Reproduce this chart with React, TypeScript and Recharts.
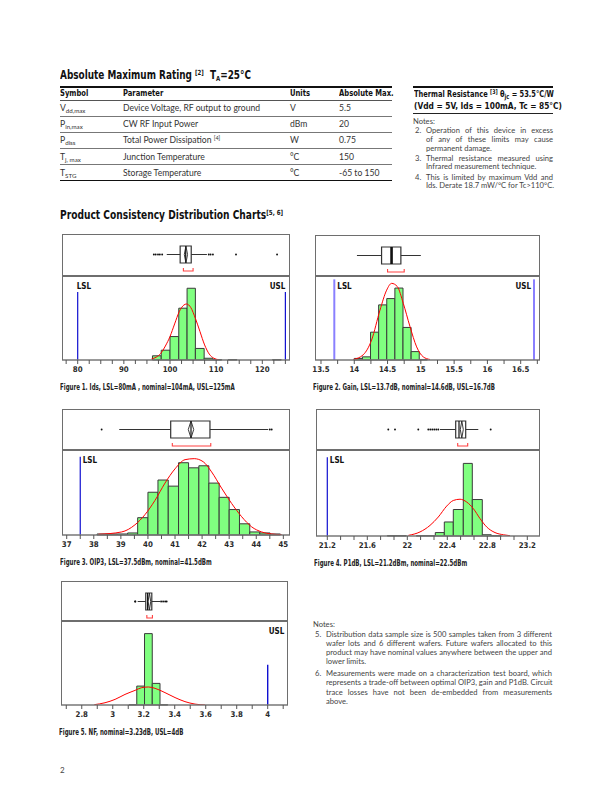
import React from "react";
import {
  ComposedChart, XAxis, YAxis, Line, Scatter, ReferenceArea, ReferenceLine,
} from "recharts";

const NARROW = '"DejaVu Sans Condensed", "Liberation Sans", sans-serif';
const BODY = 'Lato, "Open Sans", sans-serif';

// ---------- Figure 1: Ids (mA) ----------
const idsBins = [
  { x0: 96.2, x1: 98.1, n: 12 },
  { x0: 98.1, x1: 100.0, n: 28 },
  { x0: 100.0, x1: 101.9, n: 67 },
  { x0: 101.9, x1: 103.7, n: 148 },
  { x0: 103.7, x1: 105.5, n: 205 },
  { x0: 105.5, x1: 107.4, n: 33 },
  { x0: 107.4, x1: 109.3, n: 5 },
  { x0: 109.3, x1: 111.2, n: 1 },
  { x0: 112.6, x1: 114.5, n: 1 },
  { x0: 122.2, x1: 124.1, n: 1 },
];
const idsFit = [
  { x: 96, y: 3 }, { x: 97, y: 8 }, { x: 98, y: 19 }, { x: 99, y: 40 },
  { x: 100, y: 67 }, { x: 101, y: 103 }, { x: 102, y: 138 }, { x: 103, y: 157 },
  { x: 103.6, y: 160 }, { x: 104.5, y: 150 }, { x: 105.5, y: 119 }, { x: 106.5, y: 81 },
  { x: 107.5, y: 43 }, { x: 108.5, y: 17 }, { x: 109.5, y: 5 }, { x: 110.5, y: 1 },
];
const idsBox = { lo: 99.3, q1: 102.2, med: 103.4, q3: 104.6, hi: 108.0, meanLo: 103.1, meanHi: 103.8, shortLo: 102.9, shortHi: 105.0 };
const idsOutliers = [96.5, 96.9, 97.4, 97.8, 98.3, 108.4, 108.8, 109.3, 114.3, 123.2];
const idsSpecs = [{ name: "LSL", x: 80 }, { name: "USL", x: 125 }];
const idsTicks = [77.5, 80, 82.5, 85, 87.5, 90, 92.5, 95, 97.5, 100, 102.5, 105, 107.5, 110, 112.5, 115, 117.5, 120, 122.5, 125];
const idsTickLabels = [80, 90, 100, 110, 120];

// ---------- Figure 2: Gain (dB) ----------
const gainBins = [
  { x0: 14.0, x1: 14.122, n: 3 },
  { x0: 14.122, x1: 14.244, n: 6 },
  { x0: 14.244, x1: 14.366, n: 53 },
  { x0: 14.366, x1: 14.488, n: 105 },
  { x0: 14.488, x1: 14.61, n: 117 },
  { x0: 14.61, x1: 14.732, n: 137 },
  { x0: 14.732, x1: 14.854, n: 62 },
  { x0: 14.854, x1: 14.976, n: 16 },
  { x0: 14.976, x1: 15.098, n: 1 },
];
const gainFit = [
  { x: 13.985, y: 1 }, { x: 14.135, y: 10 }, { x: 14.26, y: 38 }, { x: 14.386, y: 95 },
  { x: 14.486, y: 133 }, { x: 14.561, y: 146 }, { x: 14.646, y: 140 }, { x: 14.736, y: 108 },
  { x: 14.836, y: 64 }, { x: 14.937, y: 25 }, { x: 15.036, y: 6 }, { x: 15.137, y: 1 },
];
const gainBox = { lo: 14.04, q1: 14.41, med: 14.56, q3: 14.7, hi: 15.0, meanLo: 14.55, meanHi: 14.58, shortLo: 14.5, shortHi: 14.75 };
const gainOutliers: number[] = [];
const gainSpecs = [{ name: "LSL", x: 13.7 }, { name: "USL", x: 16.7 }];
const gainTicks = [13.5, 13.75, 14, 14.25, 14.5, 14.75, 15, 15.25, 15.5, 15.75, 16, 16.25, 16.5, 16.75];
const gainTickLabels = [13.5, 14, 14.5, 15, 15.5, 16, 16.5];

// ---------- Figure 3: OIP3 (dBm) ----------
const oip3Bins = [
  { x0: 38.12, x1: 38.5, n: 1 }, { x0: 38.5, x1: 38.87, n: 1 }, { x0: 38.87, x1: 39.25, n: 1 },
  { x0: 39.25, x1: 39.62, n: 2 }, { x0: 39.62, x1: 40.0, n: 17 }, { x0: 40.0, x1: 40.37, n: 42 },
  { x0: 40.37, x1: 40.75, n: 54 }, { x0: 40.75, x1: 41.13, n: 48 }, { x0: 41.13, x1: 41.5, n: 71 },
  { x0: 41.5, x1: 41.88, n: 66 }, { x0: 41.88, x1: 42.25, n: 68 }, { x0: 42.25, x1: 42.63, n: 51 },
  { x0: 42.63, x1: 43.0, n: 37 }, { x0: 43.0, x1: 43.38, n: 25 }, { x0: 43.38, x1: 43.76, n: 11 },
  { x0: 43.76, x1: 44.13, n: 3 }, { x0: 44.13, x1: 44.51, n: 2 }, { x0: 44.51, x1: 44.89, n: 1 },
];
const oip3Fit = [
  { x: 38.17, y: 0.7 }, { x: 39.03, y: 3 }, { x: 39.52, y: 10 }, { x: 39.89, y: 20 },
  { x: 40.26, y: 34 }, { x: 40.63, y: 51 }, { x: 41.0, y: 65 }, { x: 41.37, y: 74 },
  { x: 41.71, y: 75 }, { x: 42.04, y: 72 }, { x: 42.35, y: 62 }, { x: 42.72, y: 46 },
  { x: 43.09, y: 31 }, { x: 43.46, y: 18 }, { x: 43.83, y: 8 }, { x: 44.2, y: 3 },
  { x: 44.57, y: 1 }, { x: 44.94, y: 0.3 },
];
const oip3Box = { lo: 38.94, q1: 40.84, med: 41.59, q3: 42.29, hi: 44.44, meanLo: 41.49, meanHi: 41.69, shortLo: 40.9, shortHi: 42.32 };
const oip3Outliers = [38.29, 44.5, 44.57];
const oip3Specs = [{ name: "LSL", x: 37.5 }];
const oip3Ticks = [37, 37.5, 38, 38.5, 39, 39.5, 40, 40.5, 41, 41.5, 42, 42.5, 43, 43.5, 44, 44.5, 45];
const oip3TickLabels = [37, 38, 39, 40, 41, 42, 43, 44, 45];

// ---------- Figure 4: P1dB (dBm) ----------
const p1dbBins = [
  { x0: 21.8, x1: 21.9, n: 1 }, { x0: 21.9, x1: 21.99, n: 1 }, { x0: 22.09, x1: 22.18, n: 1 },
  { x0: 22.18, x1: 22.28, n: 1 }, { x0: 22.28, x1: 22.37, n: 11 }, { x0: 22.37, x1: 22.46, n: 45 },
  { x0: 22.46, x1: 22.56, n: 85 }, { x0: 22.56, x1: 22.65, n: 233 }, { x0: 22.65, x1: 22.75, n: 117 },
  { x0: 22.75, x1: 22.84, n: 4 }, { x0: 22.84, x1: 22.94, n: 1 },
];
const p1dbFit = [
  { x: 22.01, y: 2 }, { x: 22.127, y: 13 }, { x: 22.227, y: 34 }, { x: 22.31, y: 61 },
  { x: 22.394, y: 96 }, { x: 22.46, y: 114 }, { x: 22.527, y: 118 }, { x: 22.594, y: 109 },
  { x: 22.66, y: 88 }, { x: 22.727, y: 56 }, { x: 22.794, y: 29 }, { x: 22.877, y: 11 },
  { x: 22.96, y: 4 }, { x: 23.027, y: 1 },
];
const p1dbBox = { lo: 22.327, q1: 22.484, med: 22.517, q3: 22.584, hi: 22.71, meanLo: 22.53, meanHi: 22.56, shortLo: 22.504, shortHi: 22.604 };
const p1dbOutliers = [21.81, 21.877, 22.11, 22.21, 22.23, 22.25, 22.27, 22.29, 22.31, 22.834];
const p1dbSpecs = [{ name: "LSL", x: 21.2 }];
const p1dbTicks = [21.2, 21.333, 21.467, 21.6, 21.733, 21.867, 22, 22.133, 22.267, 22.4, 22.533, 22.667, 22.8, 22.933, 23.067, 23.2];
const p1dbTickLabels = [21.2, 21.6, 22, 22.4, 22.8, 23.2];

// ---------- Figure 5: NF (dB) ----------
const nfBins = [
  { x0: 3.105, x1: 3.155, n: 1 }, { x0: 3.155, x1: 3.205, n: 84 }, { x0: 3.205, x1: 3.255, n: 317 },
  { x0: 3.255, x1: 3.305, n: 96 }, { x0: 3.305, x1: 3.355, n: 1 },
];
const nfFit = [
  { x: 2.881, y: 1.5 }, { x: 2.95, y: 10 }, { x: 3.015, y: 25 }, { x: 3.079, y: 47 },
  { x: 3.144, y: 65 }, { x: 3.187, y: 77 }, { x: 3.23, y: 80 }, { x: 3.273, y: 74 },
  { x: 3.337, y: 55 }, { x: 3.402, y: 33 }, { x: 3.466, y: 15 }, { x: 3.531, y: 4 }, { x: 3.596, y: 0 },
];
const nfBox = { lo: 3.161, q1: 3.213, med: 3.225, q3: 3.252, hi: 3.305, meanLo: 3.228, meanHi: 3.245, shortLo: 3.22, shortHi: 3.256 };
const nfOutliers = [3.144, 3.146, 3.312, 3.325, 3.338, 3.348];
const nfSpecs = [{ name: "USL", x: 4 }];
const nfTicks = [2.7, 2.8, 2.9, 3, 3.1, 3.2, 3.3, 3.4, 3.5, 3.6, 3.7, 3.8, 3.9, 4, 4.1];
const nfTickLabels = [2.8, 3, 3.2, 3.4, 3.6, 3.8, 4];

// table text
const ratingRows = [
  { sym: "V", sub: "dd,max", param: "Device Voltage, RF output to ground", sup: "", units: "V", max: "5.5" },
  { sym: "P", sub: "in,max", param: "CW RF Input Power", sup: "", units: "dBm", max: "20" },
  { sym: "P", sub: "diss", param: "Total Power Dissipation", sup: "[4]", units: "W", max: "0.75" },
  { sym: "T", sub: "j, max", param: "Junction Temperature", sup: "", units: "°C", max: "150" },
  { sym: "T", sub: "STG", param: "Storage Temperature", sup: "", units: "°C", max: "-65 to 150" },
];

// box-plot panel geometry (px from panel top)
const BOX_TOP = 12, BOX_BOT = 29, BOX_MID = 20.5, BR_TOP = 34, BR_BOT = 37;
const AX_H = 22;
const FRAME = "1.5px solid #6e6e6e";

type Bin = { x0: number; x1: number; n: number };
type Pt = { x: number; y: number };
type Box = { lo: number; q1: number; med: number; q3: number; hi: number; meanLo: number; meanHi: number; shortLo: number; shortHi: number };
type SpecStyle = { reach: number; anchor: "start" | "end"; dx: number; dy: number };

interface FigProps {
  frame: { left: number; right: number; top: number; divider: number; axis: number };
  domain: [number, number];
  yMax: number;
  bins: Bin[];
  fit: Pt[];
  box: Box;
  outliers: number[];
  specs: { name: string; x: number }[];
  specStyles: SpecStyle[];
  specColor: string;
  specWidth: number;
  ticks: number[];
  tickLabels: number[];
  caption: string;
  thickMedian?: boolean;
  noDiamond?: boolean;
}

// condensed bold text (horizontal squeeze of the installed condensed face)
function Cond({ children, size, scale = 0.88, lh, style }: { children: React.ReactNode; size: number; scale?: number; lh?: number; style?: React.CSSProperties }) {
  return (
    <div style={{
      display: "block", width: "max-content", whiteSpace: "nowrap", transform: `scaleX(${scale})`, transformOrigin: "0 0",
      fontFamily: NARROW, fontWeight: 700, fontSize: size, lineHeight: `${lh ?? Math.round(size * 1.25)}px`,
      color: "#111", ...style,
    }}>{children}</div>
  );
}

function Figure(p: FigProps) {
  const { frame, box } = p;
  const W = frame.right - frame.left;
  const boxH = frame.divider - frame.top;
  const plotH = frame.axis - frame.divider;
  const mean = (box.meanLo + box.meanHi) / 2;
  const diamond = [
    { x: mean, y: BOX_TOP }, { x: box.meanHi, y: BOX_MID }, { x: mean, y: BOX_BOT },
    { x: box.meanLo, y: BOX_MID }, { x: mean, y: BOX_TOP },
  ];
  const bracket = [
    { x: box.shortLo, y: BR_TOP }, { x: box.shortLo, y: BR_BOT },
    { x: box.shortHi, y: BR_BOT }, { x: box.shortHi, y: BR_TOP },
  ];
  const outlierPts = p.outliers.map(x => ({ x, y: BOX_MID }));
  const fmt = (v: number) => {
    const hit = p.tickLabels.find(l => Math.abs(l - v) < 1e-6);
    return hit === undefined ? "" : String(hit);
  };

  return (
    <>
      {/* box plot */}
      <div style={{ position: "absolute", left: frame.left, top: frame.top }}>
        <ComposedChart width={W} height={boxH} margin={{ top: 0, right: 0, bottom: 0, left: 0 }}>
          <XAxis type="number" dataKey="x" domain={p.domain} allowDataOverflow hide />
          <YAxis type="number" dataKey="y" domain={[0, boxH]} reversed allowDataOverflow hide />
          <ReferenceLine segment={[{ x: box.lo, y: BOX_MID }, { x: box.q1, y: BOX_MID }]} stroke="#333" strokeWidth={1} />
          <ReferenceLine segment={[{ x: box.q3, y: BOX_MID }, { x: box.hi, y: BOX_MID }]} stroke="#333" strokeWidth={1} />
          <ReferenceArea x1={box.q1} x2={box.q3} y1={BOX_TOP} y2={BOX_BOT} fill="#fff" fillOpacity={1} stroke="#333" strokeWidth={1.2} ifOverflow="visible" />
          <ReferenceLine segment={[{ x: box.med, y: BOX_TOP }, { x: box.med, y: BOX_BOT }]} stroke="#111" strokeWidth={p.thickMedian ? 2.6 : 1.2} />
          {!p.noDiamond && (
            <Line data={diamond} dataKey="y" type="linear" stroke="#222" strokeWidth={0.9} dot={false} isAnimationActive={false} />
          )}
          <Line data={bracket} dataKey="y" type="linear" stroke="#ff4040" strokeWidth={1.1} dot={false} isAnimationActive={false} />
          <Scatter data={outlierPts} dataKey="y" isAnimationActive={false}
            shape={(sp: any) => <circle cx={sp.cx} cy={sp.cy} r={0.95} fill="#111" />} />
        </ComposedChart>
      </div>

      {/* histogram */}
      <div style={{ position: "absolute", left: frame.left, top: frame.divider }}>
        <ComposedChart width={W} height={plotH + AX_H} data={p.fit} margin={{ top: 0, right: 0, bottom: 0, left: 0 }}>
          <XAxis type="number" dataKey="x" domain={p.domain} allowDataOverflow ticks={p.ticks} interval={0}
            tickFormatter={fmt} height={AX_H} tickSize={4} tickMargin={2}
            axisLine={{ stroke: "#777", strokeWidth: 1.6 }} tickLine={{ stroke: "#555", strokeWidth: 1 }}
            tick={{ fontSize: 7.8, fontFamily: NARROW, fontWeight: 700, fill: "#2a2a2a" }} />
          <YAxis type="number" dataKey="y" domain={[0, p.yMax]} allowDataOverflow hide />
          {p.bins.map((b, i) => (
            <ReferenceArea key={i} x1={b.x0} x2={b.x1} y1={0} y2={b.n} fill="#80ff80" fillOpacity={1}
              stroke="#3a3a3a" strokeWidth={1} ifOverflow="visible" />
          ))}
          <Line type="monotone" dataKey="y" stroke="#ff0000" strokeWidth={1} dot={false} isAnimationActive={false} />
          {p.specs.map((s, i) => {
            const st = p.specStyles[i];
            return (
              <ReferenceLine key={s.name} segment={[{ x: s.x, y: 0 }, { x: s.x, y: p.yMax * st.reach }]}
                stroke={p.specColor} strokeWidth={p.specWidth}
                label={(lp: any) => {
                  const vb = lp.viewBox || { x: 0, y: 0 };
                  return (
                    <text x={vb.x + st.dx} y={vb.y + st.dy} textAnchor={st.anchor} fontFamily={NARROW}
                      fontWeight={700} fontSize={8} fill="#111">{s.name}</text>
                  );
                }} />
            );
          })}
        </ComposedChart>
      </div>

      {/* frame */}
      <div style={{
        position: "absolute", left: frame.left, top: frame.top, width: W, height: frame.axis - frame.top,
        borderLeft: FRAME, borderTop: FRAME, borderRight: FRAME, boxSizing: "border-box", pointerEvents: "none",
      }} />
      <div style={{ position: "absolute", left: frame.left, top: frame.divider - 1, width: W, height: 1.5, background: "#6e6e6e" }} />

      <div style={{ position: "absolute", left: frame.left - 2, top: frame.axis + 21 }}>
        <Cond size={8.3} scale={0.735} lh={12} style={{ color: "#222" }}>{p.caption}</Cond>
      </div>
    </>
  );
}

function JLines({ lines, width }: { lines: string[]; width: number }) {
  return (
    <div style={{ width }}>
      {lines.map((l, i) => (
        <div key={i} style={{
          whiteSpace: "nowrap", textAlign: "justify",
          textAlignLast: i < lines.length - 1 ? "justify" : "left",
        }}>{l}</div>
      ))}
    </div>
  );
}

function Note({ num, lines, width, gap }: { num: string; lines: string[]; width: number; gap: number }) {
  return (
    <div style={{ display: "flex", marginTop: gap }}>
      <div style={{ width: 13, paddingLeft: 2, boxSizing: "border-box" }}>{num}</div>
      <JLines lines={lines} width={width} />
    </div>
  );
}

const sub = (t: string, size = 6.2, drop = 2) => (
  <span style={{ fontSize: size, position: "relative", top: drop }}>{t}</span>
);
const sup = (t: string, size = 6.5, lift = -4) => (
  <span style={{ fontSize: size, position: "relative", top: lift }}>{t}</span>
);

export default function App() {
  return (
    <div style={{ position: "absolute", left: 0, top: 0, width: 612, height: 792, background: "#fff", overflow: "hidden", color: "#222" }}>
      <style>{".recharts-surface{overflow:visible}"}</style>

      {/* Absolute maximum rating */}
      <div style={{ position: "absolute", left: 60, top: 69 }}>
        <Cond size={11.5} scale={0.86} lh={13}>
          Absolute Maximum Rating {sup("[2]", 7, -4)}&nbsp; T{sub("A", 7, 2)}=25°C
        </Cond>
      </div>

      <div style={{ position: "absolute", left: 60, top: 86, width: 332 }}>
        <div style={{ display: "flex", height: 14.5, alignItems: "center", borderTop: "2px solid #111", borderBottom: "1px solid #555", boxSizing: "border-box" }}>
          <div style={{ width: 63 }}><Cond size={8.6} lh={11}>Symbol</Cond></div>
          <div style={{ width: 167 }}><Cond size={8.6} lh={11}>Parameter</Cond></div>
          <div style={{ width: 49 }}><Cond size={8.6} lh={11}>Units</Cond></div>
          <div style={{ width: 53 }}><Cond size={8.6} lh={11}>Absolute Max.</Cond></div>
        </div>
        {ratingRows.map((r, i) => (
          <div key={i} style={{
            display: "flex", height: 16.2, alignItems: "center", boxSizing: "border-box",
            borderBottom: i === ratingRows.length - 1 ? "1.3px solid #111" : "0.8px solid #777",
            fontFamily: BODY, fontSize: 8.6, color: "#333", whiteSpace: "nowrap",
          }}>
            <div style={{ width: 63 }}>{r.sym}{sub(r.sub, 6.2, 2)}</div>
            <div style={{ width: 167 }}>{r.param}{r.sup && <>&nbsp;{sup(r.sup, 5.5, -3)}</>}</div>
            <div style={{ width: 49 }}>{r.units}</div>
            <div style={{ width: 53 }}>{r.max}</div>
          </div>
        ))}
      </div>

      {/* Thermal resistance */}
      <div style={{ position: "absolute", left: 413, top: 86, width: 140, height: 2, background: "#111" }} />
      <div style={{ position: "absolute", left: 414, top: 89 }}>
        <Cond size={9} scale={0.82} lh={11}>Thermal Resistance {sup("[3]", 6.5, -3)} θ{sub("jc", 7, 1.5)} = 53.5°C/W</Cond>
        <Cond size={9} scale={0.92} lh={11}>(Vdd = 5V, Ids = 100mA, Tc = 85°C)</Cond>
      </div>
      <div style={{ position: "absolute", left: 413, top: 113, width: 140, height: 1, background: "#222" }} />
      <div style={{ position: "absolute", left: 413, top: 117, fontFamily: BODY, fontSize: 7.6, lineHeight: "8.7px", color: "#444" }}>
        <div>Notes:</div>
        <Note num="2." width={127} gap={0.5} lines={["Operation of this device in excess", "of any of these limits may cause", "permanent damage."]} />
        <Note num="3." width={127} gap={1.4} lines={["Thermal resistance measured using", "Infrared measurement technique."]} />
        <Note num="4." width={127} gap={1.4} lines={["This is limited by maximum Vdd and", "Ids. Derate 18.7 mW/°C  for Tc>110°C."]} />
      </div>

      {/* Charts heading */}
      <div style={{ position: "absolute", left: 60, top: 208 }}>
        <Cond size={11.5} scale={0.88} lh={14}>Product Consistency Distribution Charts{sup("[5, 6]", 7, -4)}</Cond>
      </div>

      <Figure
        frame={{ left: 62, right: 290, top: 234, divider: 276, axis: 360 }}
        domain={[76.6, 126.0]} yMax={240}
        bins={idsBins} fit={idsFit} box={idsBox} outliers={idsOutliers}
        specs={idsSpecs}
        specStyles={[{ reach: 0.81, anchor: "start", dx: -1, dy: -2.5 }, { reach: 0.81, anchor: "end", dx: 0, dy: -2.5 }]}
        specColor="#1010d0" specWidth={1.2}
        ticks={idsTicks} tickLabels={idsTickLabels}
        caption="Figure 1. Ids, LSL=80mA , nominal=104mA, USL=125mA"
      />
      <Figure
        frame={{ left: 315, right: 540, top: 235, divider: 276, axis: 360 }}
        domain={[13.41, 16.79]} yMax={160}
        bins={gainBins} fit={gainFit} box={gainBox} outliers={gainOutliers}
        specs={gainSpecs}
        specStyles={[{ reach: 0.96, anchor: "start", dx: 3, dy: 10 }, { reach: 0.96, anchor: "end", dx: -3, dy: 10 }]}
        specColor="#8a80ff" specWidth={2}
        ticks={gainTicks} tickLabels={gainTickLabels}
        caption="Figure 2. Gain, LSL=13.7dB, nominal=14.6dB, USL=16.7dB"
        thickMedian noDiamond
      />
      <Figure
        frame={{ left: 62, right: 290, top: 409, divider: 450, axis: 535 }}
        domain={[36.826, 45.246]} yMax={83.5}
        bins={oip3Bins} fit={oip3Fit} box={oip3Box} outliers={oip3Outliers}
        specs={oip3Specs}
        specStyles={[{ reach: 0.92, anchor: "start", dx: 2.5, dy: 6.5 }]}
        specColor="#1010d0" specWidth={1.2}
        ticks={oip3Ticks} tickLabels={oip3TickLabels}
        caption="Figure 3. OIP3, LSL=37.5dBm, nominal=41.5dBm"
      />
      <Figure
        frame={{ left: 316, right: 540, top: 409, divider: 450, axis: 536 }}
        domain={[21.087, 23.327]} yMax={276}
        bins={p1dbBins} fit={p1dbFit} box={p1dbBox} outliers={p1dbOutliers}
        specs={p1dbSpecs}
        specStyles={[{ reach: 0.915, anchor: "start", dx: 2.5, dy: 6 }]}
        specColor="#1010d0" specWidth={1.2}
        ticks={p1dbTicks} tickLabels={p1dbTickLabels}
        caption="Figure 4. P1dB, LSL=21.2dBm, nominal=22.5dBm"
      />
      <Figure
        frame={{ left: 61, right: 288, top: 581, divider: 621, axis: 705 }}
        domain={[2.666, 4.131]} yMax={373}
        bins={nfBins} fit={nfFit} box={nfBox} outliers={nfOutliers}
        specs={nfSpecs}
        specStyles={[{ reach: 0.48, anchor: "start", dx: 1, dy: -31 }]}
        specColor="#1010d0" specWidth={1.4}
        ticks={nfTicks} tickLabels={nfTickLabels}
        caption="Figure 5. NF, nominal=3.23dB, USL=4dB"
      />

      {/* Notes 5, 6 */}
      <div style={{ position: "absolute", left: 313, top: 620, fontFamily: BODY, fontSize: 7.6, lineHeight: "9.2px", color: "#444" }}>
        <div>Notes:</div>
        <Note num="5." width={226} gap={0.5} lines={[
          "Distribution data sample size is 500 samples taken from 3 different",
          "wafer lots and 6 different wafers. Future wafers allocated to this",
          "product may have nominal values anywhere between the upper and",
          "lower limits.",
        ]} />
        <Note num="6." width={226} gap={2.6} lines={[
          "Measurements were made on a characterization test board, which",
          "represents a trade-off between optimal OIP3, gain and P1dB. Circuit",
          "trace losses have not been de-embedded from measurements",
          "above.",
        ]} />
      </div>

      <div style={{ position: "absolute", left: 60, top: 765, fontFamily: BODY, fontSize: 8, color: "#444" }}>2</div>
    </div>
  );
}
